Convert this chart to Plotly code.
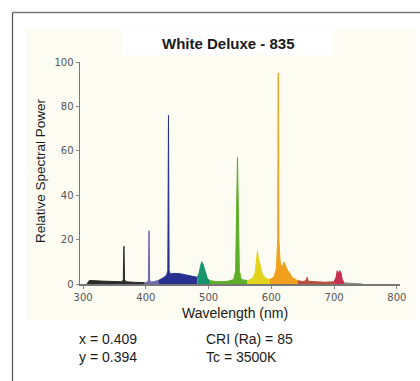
import plotly.graph_objects as go

# Spectral bands: wavelength (nm) and relative power, each drawn with its own colour
band_names = ["uv", "violet", "blue", "teal", "green", "yellow", "orange", "deepred", "red", "ir"]
band_colors = ["#2a2a2a", "#6f66b0", "#27308f", "#17946c", "#5fae2a", "#e2d41c", "#f0a01c", "#b8503a", "#c8304c", "#888888"]

wl_uv = [306, 310, 330, 350, 362, 364, 365, 366, 368, 380, 398]
pw_uv = [0, 1.6, 1.3, 1.1, 1.0, 2, 17, 2, 1.0, 0.8, 0.6]

wl_violet = [398, 403, 404, 405, 406, 407, 412, 420]
pw_violet = [0.6, 0.8, 2, 24, 2, 0.9, 1.0, 1.6]

wl_blue = [420, 428, 433, 435, 436, 437, 439, 445, 455, 465, 475, 482]
pw_blue = [1.6, 2.8, 4, 6, 76, 6, 4.5, 4.8, 4.6, 4.0, 3.2, 3.0]

wl_teal = [482, 485, 487, 489, 491, 493, 495, 498, 502]
pw_teal = [3.0, 5, 8, 10, 9, 7, 5, 2.5, 1.5]

wl_green = [502, 515, 530, 540, 543, 545, 546, 547, 549, 552, 562]
pw_green = [1.5, 1.0, 1.2, 2, 6, 40, 57, 40, 6, 2, 1.5]

wl_yellow = [562, 570, 574, 577, 578, 579, 582, 586, 592, 597]
pw_yellow = [1.5, 2.5, 5, 11, 15, 12, 9, 4, 2.5, 2.0]

wl_orange = [597, 604, 608, 610, 611, 612, 614, 617, 620, 623, 626, 629, 633, 642]
pw_orange = [2.0, 3, 7, 20, 95, 20, 10, 7, 10, 8, 6, 5, 3, 1.5]

wl_deepred = [642, 650, 655, 657, 659, 670, 685, 700]
pw_deepred = [1.5, 1.1, 1.5, 3, 1.2, 0.9, 0.8, 1.0]

wl_red = [700, 703, 705, 707, 709, 711, 713, 716]
pw_red = [1.0, 3, 6, 5, 6, 5, 2, 0.5]

wl_ir = [716, 730, 745]
pw_ir = [0.5, 0.3, 0]

bands_wl = [wl_uv, wl_violet, wl_blue, wl_teal, wl_green, wl_yellow, wl_orange, wl_deepred, wl_red, wl_ir]
bands_pw = [pw_uv, pw_violet, pw_blue, pw_teal, pw_green, pw_yellow, pw_orange, pw_deepred, pw_red, pw_ir]

x_ticks = [300, 400, 500, 600, 700, 800]
y_ticks = [0, 20, 40, 60, 80, 100]

title_text = "White Deluxe - 835"
x_title = "Wavelength (nm)"
y_title = "Relative Spectral Power"
info_left = ["x = 0.409", "y = 0.394"]
info_right = ["CRI (Ra) = 85", "Tc = 3500K"]

fig = go.Figure()
for name, col, wl, pw in zip(band_names, band_colors, bands_wl, bands_pw):
    fig.add_trace(go.Scatter(
        x=wl, y=pw, name=name, mode="lines",
        line=dict(color=col, width=1),
        fill="tozeroy", fillcolor=col, showlegend=False, hoverinfo="skip"))

W, H = 420, 381
ml, mr, mt, mb = 80, 20, 62, 97
pw_px = W - ml - mr
ph_px = H - mt - mb

def px2paper_x(px):
    return (px - ml) / pw_px

def px2paper_y(py):
    return (H - mb - py) / ph_px

FONT = "Liberation Sans, Arial, sans-serif"

shapes = [
    # cream panel
    dict(type="rect", xref="paper", yref="paper", layer="below",
         x0=px2paper_x(27), x1=px2paper_x(416), y0=px2paper_y(320), y1=px2paper_y(29),
         fillcolor="#fcfcf2", line=dict(width=0)),
    # white title box
    dict(type="rect", xref="paper", yref="paper", layer="below",
         x0=px2paper_x(122), x1=px2paper_x(333), y0=px2paper_y(55), y1=px2paper_y(30),
         fillcolor="#ffffff", line=dict(width=0)),
    # frame
    dict(type="line", xref="paper", yref="paper",
         x0=px2paper_x(12.5), x1=px2paper_x(430), y0=px2paper_y(12.5), y1=px2paper_y(12.5),
         line=dict(color="#7a7a7a", width=1.5)),
    dict(type="line", xref="paper", yref="paper",
         x0=px2paper_x(12.5), x1=px2paper_x(12.5), y0=px2paper_y(12.5), y1=px2paper_y(395),
         line=dict(color="#555555", width=1.2)),
]

annotations = [
    dict(text="<b>" + title_text + "</b>", xref="paper", yref="paper", x=px2paper_x(228),
         y=px2paper_y(44), showarrow=False, font=dict(family=FONT, size=15, color="#1a1a1a"),
         xanchor="center", yanchor="middle"),
    dict(text=x_title, xref="paper", yref="paper", x=px2paper_x(235), y=px2paper_y(313),
         showarrow=False, font=dict(family=FONT, size=14, color="#1a1a1a"),
         xanchor="center", yanchor="middle"),
    dict(text=y_title, xref="paper", yref="paper", x=px2paper_x(40), y=px2paper_y(171),
         showarrow=False, textangle=-90,
         font=dict(family=FONT, size=13.5, color="#1a1a1a"),
         xanchor="center", yanchor="middle"),
]
for i, t in enumerate(info_left):
    annotations.append(dict(text=t, xref="paper", yref="paper", x=px2paper_x(77),
                            y=px2paper_y(339 + 18 * i), showarrow=False, xanchor="left",
                            yanchor="middle",
                            font=dict(family=FONT, size=14, color="#1a1a1a")))
for i, t in enumerate(info_right):
    annotations.append(dict(text=t, xref="paper", yref="paper", x=px2paper_x(204),
                            y=px2paper_y(339 + 18 * i), showarrow=False, xanchor="left",
                            yanchor="middle",
                            font=dict(family=FONT, size=14, color="#1a1a1a")))

fig.update_layout(
    width=W, height=H,
    margin=dict(l=ml, r=mr, t=mt, b=mb, pad=0),
    paper_bgcolor="#ffffff", plot_bgcolor="rgba(0,0,0,0)",
    shapes=shapes, annotations=annotations,
    xaxis=dict(range=[295, 805], tickvals=x_ticks, ticktext=[str(v) for v in x_ticks],
               showgrid=False, zeroline=False, showline=True, linecolor="#777777", linewidth=1.5,
               ticks="outside", ticklen=3, tickcolor="#888888",
               tickfont=dict(family="DejaVu Sans", size=10, color="#555555")),
    yaxis=dict(range=[0, 100], tickvals=y_ticks, ticktext=[str(v) for v in y_ticks],
               showgrid=False, zeroline=False, showline=True, linecolor="#777777", linewidth=1.5,
               ticks="outside", ticklen=3, tickcolor="#888888",
               tickfont=dict(family="DejaVu Sans", size=10, color="#555555")),
)

fig.write_html("out.html", config={"displayModeBar": False, "staticPlot": True},
               post_script="document.body.style.margin='0';document.body.style.padding='0';"
                           "document.body.style.overflow='hidden';")
